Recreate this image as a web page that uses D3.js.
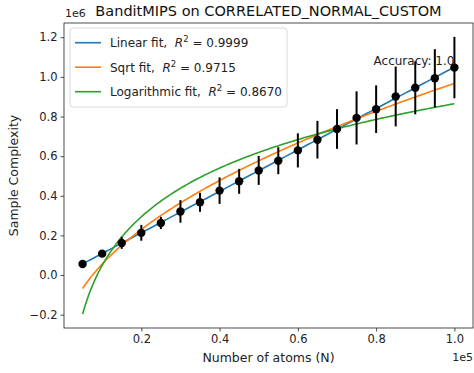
<!DOCTYPE html>
<html>
<head>
<meta charset="utf-8">
<script src="https://cdn.jsdelivr.net/npm/d3@7"></script>
<style>
  body { margin: 0; background: #fff; }
  svg { font-family: "DejaVu Sans", sans-serif; }
</style>
</head>
<body>
<div id="chart"></div>
<script>
// --- data
const atoms = [5000, 10000, 15000, 20000, 25000, 30000, 35000, 40000, 45000, 50000,
               55000, 60000, 65000, 70000, 75000, 80000, 85000, 90000, 95000, 100000];
const meanComplexity = [56000, 108000, 162000, 213000, 263000, 321000, 367000, 426000, 473000, 528000,
                        577000, 629000, 683000, 737000, 793000, 837000, 901000, 945000, 993000, 1047000];
const stdComplexity = [9000, 11000, 30000, 40000, 31000, 57000, 48000, 67000, 63000, 73000,
                       68000, 86000, 95000, 100000, 134000, 120000, 151000, 134000, 147000, 155000];
const fitNames = ['Linear', 'Sqrt', 'Logarithmic'];
const fitR2 = ['0.9999', '0.9715', '0.8670'];
const fitColors = ['#1f77b4', '#ff7f0e', '#2ca02c'];
const xTicks = [20000, 40000, 60000, 80000, 100000];
const yTicks = [-200000, 0, 200000, 400000, 600000, 800000, 1000000, 1200000];
const accuracyLabel = 'Accuracy: 1.0';

const width = 474, height = 373;
const margin = { top: 23, right: 1, bottom: 45, left: 64 };

const svg = d3.select('#chart').append('svg')
    .attr('width', width).attr('height', height);

// --- least squares fits y = a*f(x) + b
const transforms = [x => x, x => Math.sqrt(x), x => Math.log(x)];
const fits = transforms.map(f => {
    const X = atoms.map(f);
    const mx = d3.mean(X), my = d3.mean(meanComplexity);
    const a = d3.sum(X, (v, i) => (v - mx) * (meanComplexity[i] - my)) / d3.sum(X, v => (v - mx) ** 2);
    const b = my - a * mx;
    return x => a * f(x) + b;
});
const grid = d3.range(0, 201).map(i => atoms[0] + (atoms[atoms.length - 1] - atoms[0]) * i / 200);
const fitLines = fits.map(fn => grid.map(x => [x, fn(x)]));

// --- scales, matplotlib-like 5% margins
const xExt = d3.extent(atoms);
const yLo = d3.min([d3.min(meanComplexity, (d, i) => d - stdComplexity[i]), ...fitLines.map(l => d3.min(l, p => p[1]))]);
const yHi = d3.max([d3.max(meanComplexity, (d, i) => d + stdComplexity[i]), ...fitLines.map(l => d3.max(l, p => p[1]))]);
const xPad = (xExt[1] - xExt[0]) * 0.05, yPad = (yHi - yLo) * 0.05;

const x = d3.scaleLinear().domain([xExt[0] - xPad, xExt[1] + xPad])
    .range([margin.left, width - margin.right]);
const y = d3.scaleLinear().domain([yLo - yPad, yHi + yPad])
    .range([height - margin.bottom, margin.top]);

// --- fit curves
const line = d3.line().x(d => x(d[0])).y(d => y(d[1]));
svg.append('g').selectAll('path')
    .data(fitLines)
    .enter().append('path')
    .attr('d', line)
    .attr('fill', 'none')
    .attr('stroke', (d, i) => fitColors[i])
    .attr('stroke-width', 1.6);

// --- error bars + points
const pts = svg.append('g');
pts.selectAll('line')
    .data(atoms)
    .enter().append('line')
    .attr('x1', d => x(d)).attr('x2', d => x(d))
    .attr('y1', (d, i) => y(meanComplexity[i] - stdComplexity[i]))
    .attr('y2', (d, i) => y(meanComplexity[i] + stdComplexity[i]))
    .attr('stroke', '#000').attr('stroke-width', 2);
pts.selectAll('circle')
    .data(atoms)
    .enter().append('circle')
    .attr('cx', d => x(d))
    .attr('cy', (d, i) => y(meanComplexity[i]))
    .attr('r', 4.2)
    .attr('fill', '#000');

// --- accuracy annotation, bottom-right anchored at the last point
const last = atoms.length - 1;
svg.append('text')
    .attr('x', x(atoms[last]))
    .attr('y', y(meanComplexity[last]) - 3)
    .attr('text-anchor', 'end')
    .attr('font-size', 12)
    .attr('fill', '#222')
    .text(accuracyLabel);

// --- axes
const gx = svg.append('g')
    .attr('transform', `translate(0,${height - margin.bottom})`)
    .call(d3.axisBottom(x).tickValues(xTicks).tickSize(3.5).tickPadding(3)
        .tickFormat(d => (d / 1e5).toFixed(1)));
const gy = svg.append('g')
    .attr('transform', `translate(${margin.left},0)`)
    .call(d3.axisLeft(y).tickValues(yTicks).tickSize(3.5).tickPadding(3)
        .tickFormat(d => (d / 1e6).toFixed(1).replace('-', '\u2212')));
[gx, gy].forEach(g => {
    g.select('.domain').remove();
    g.selectAll('text').attr('font-size', 11.5).attr('fill', '#222')
        .attr('font-family', '"DejaVu Sans", sans-serif');
    g.selectAll('line').attr('stroke', '#222').attr('stroke-width', 0.8);
});

svg.append('rect')
    .attr('x', margin.left).attr('y', margin.top)
    .attr('width', width - margin.left - margin.right)
    .attr('height', height - margin.top - margin.bottom)
    .attr('fill', 'none').attr('stroke', '#222').attr('stroke-width', 0.8);

// --- offsets, labels, title
svg.append('text').attr('x', margin.left + 1).attr('y', 17)
    .attr('font-size', 11).attr('fill', '#222').text('1e6');
svg.append('text').attr('x', width - margin.right).attr('y', 361)
    .attr('text-anchor', 'end').attr('font-size', 11).attr('fill', '#222').text('1e5');
svg.append('text')
    .attr('x', (margin.left + width - margin.right) / 2).attr('y', 362)
    .attr('text-anchor', 'middle').attr('font-size', 12.5).attr('fill', '#222')
    .text('Number of atoms (N)');
svg.append('text')
    .attr('transform', `translate(18,${(margin.top + height - margin.bottom) / 2}) rotate(-90)`)
    .attr('text-anchor', 'middle').attr('font-size', 12.5).attr('fill', '#222')
    .text('Sample Complexity');
svg.append('text')
    .attr('x', (margin.left + width - margin.right) / 2).attr('y', 16)
    .attr('text-anchor', 'middle').attr('font-size', 14.5).attr('fill', '#111')
    .text('BanditMIPS on CORRELATED_NORMAL_CUSTOM');

// --- legend
const leg = svg.append('g').attr('transform', 'translate(70,28)');
leg.append('rect')
    .attr('width', 217).attr('height', 79).attr('rx', 3)
    .attr('fill', '#fff').attr('fill-opacity', 0.8)
    .attr('stroke', '#d0d0d0').attr('stroke-width', 0.8);
const items = leg.selectAll('g.item')
    .data(fitNames)
    .enter().append('g')
    .attr('class', 'item')
    .attr('transform', (d, i) => `translate(0,${14.7 + i * 24.5})`);
items.append('line')
    .attr('x1', 5).attr('x2', 31)
    .attr('stroke', (d, i) => fitColors[i]).attr('stroke-width', 1.6);
const lt = items.append('text')
    .attr('x', 40).attr('y', 4.3)
    .attr('font-size', 12).attr('fill', '#222');
lt.append('tspan').text(d => `${d} fit,\u00a0\u00a0`);
lt.append('tspan').attr('font-style', 'italic').text('R');
lt.append('tspan').attr('dy', -5).attr('font-size', 8.5).text('2');
lt.append('tspan').attr('dy', 5).text((d, i) => `\u00a0=\u00a0${fitR2[i]}`);
</script>
</body>
</html>
